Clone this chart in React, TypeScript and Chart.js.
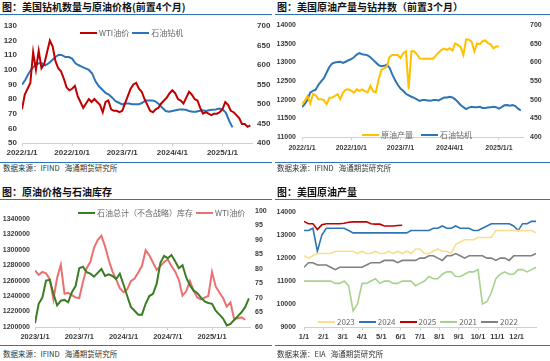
import React, { useEffect, useRef } from 'react';
import { Chart, registerables } from 'chart.js';
Chart.register(...registerables);

// ---------- Chart 1: 美国钻机数量与原油价格(前置4个月) ----------
const c1Title = '图：美国钻机数量与原油价格(前置4个月)';
const c1Base = '2022/1/1';
const c1XLabels = ['2022/1/1', '2022/10/1', '2023/7/1', '2024/4/1', '2025/1/1'];
const c1WtiStep = 0.5; // months between points
const c1Wti = [73, 83, 87, 91, 112, 100, 113, 101, 104, 112, 120, 116, 106, 101, 99, 94, 88, 86, 87, 89, 82, 78, 74, 77, 80, 78, 80, 78, 76, 71, 78, 79, 73, 72, 72, 71, 72, 77, 82, 87, 90, 91, 87, 85, 80, 76, 72, 71, 73, 74, 77, 79, 81, 84, 86, 84, 80, 79, 77, 81, 85, 83, 80, 79, 74, 70, 71, 70, 69, 70, 70, 71, 73, 78, 76, 72, 71, 69, 67, 63, 63, 61, 62];
const c1RigStep = 0.6;
const c1Rig = [549, 562, 578, 591, 599, 604, 604, 599, 604, 612, 620, 626, 625, 620, 620, 616, 604, 599, 595, 591, 587, 578, 558, 545, 537, 528, 524, 516, 507, 503, 499, 501, 501, 499, 499, 499, 503, 509, 509, 509, 506, 499, 490, 482, 480, 482, 484, 486, 486, 485, 482, 480, 480, 482, 484, 482, 484, 485, 486, 488, 486, 478, 457, 440];

// ---------- Chart 2: 美国原油产量与钻井数（前置3个月） ----------
const c2Title = '图：美国原油产量与钻井数（前置3个月）';
const c2Base = '2022/1/1';
const c2XLabels = ['2022/1/1', '2022/10/1', '2023/7/1', '2024/4/1', '2025/1/1'];
const c2Step = 0.5;
const c2Prod = [11880, 11970, 12100, 11900, 12150, 12120, 12015, 12015, 11990, 11880, 12050, 12060, 12100, 12150, 12015, 12190, 12270, 12280, 12240, 12190, 12280, 12240, 12280, 12230, 12200, 12370, 12230, 12200, 12540, 12800, 12840, 12880, 13150, 13200, 13200, 13200, 13120, 13250, 13300, 12280, 13300, 13300, 13220, 13110, 13100, 13100, 13100, 13100, 13100, 13190, 13270, 13340, 13370, 13340, 13380, 13320, 13510, 13470, 13420, 13200, 13620, 13610, 13560, 13300, 13510, 13490, 13570, 13590, 13520, 13480, 13380, 13430, 13430];
const c2Rig = [480, 488, 500, 519, 524, 527, 540, 549, 558, 573, 588, 597, 600, 601, 602, 599, 602, 606, 609, 614, 621, 625, 622, 621, 619, 614, 607, 600, 593, 590, 591, 594, 586, 568, 553, 540, 530, 524, 516, 512, 508, 505, 501, 497, 499, 499, 498, 497, 499, 499, 498, 502, 506, 506, 508, 506, 501, 494, 486, 480, 475, 479, 481, 480, 480, 481, 478, 478, 479, 480, 481, 480, 476, 480, 485, 486, 484, 486, 483, 476, 471];

// ---------- Chart 3: 原油价格与石油库存 ----------
const c3Title = '图：原油价格与石油库存';
const c3Base = '2023/1/1';
const c3XLabels = ['2023/1/1', '2023/7/1', '2024/1/1', '2024/7/1', '2025/1/1'];
const c3Step = 0.5;
const c3Stock = [1205000, 1230000, 1238000, 1260000, 1261000, 1243000, 1228000, 1234000, 1235000, 1232000, 1245000, 1253000, 1276000, 1278000, 1271000, 1269000, 1265000, 1270000, 1275000, 1266000, 1268000, 1266000, 1262000, 1269000, 1255000, 1240000, 1226000, 1221000, 1216000, 1216000, 1230000, 1240000, 1243000, 1256000, 1283000, 1292000, 1289000, 1293000, 1285000, 1276000, 1280000, 1264000, 1254000, 1247000, 1244000, 1238000, 1233000, 1231000, 1230000, 1221000, 1216000, 1211000, 1202000, 1204000, 1209000, 1214000, 1219000, 1226000, 1237000];
const c3Wti = [79.5, 78, 79, 78.5, 76.5, 69.5, 77, 81.5, 71.5, 71.8, 71, 70.2, 70, 75.5, 80.3, 82.4, 87.3, 90, 91.5, 87.8, 83, 79.2, 76.4, 73.4, 72, 73, 75.8, 76.7, 78.8, 81, 86.5, 84.7, 82.2, 79.7, 81, 82.4, 83.3, 81, 79.1, 76.3, 70.8, 72.3, 75.8, 72.6, 70.2, 69.5, 70.1, 70.7, 79, 74, 71.9, 70, 67, 68.5, 62.7, 63, 63.3, 62.5];

// ---------- Chart 4: 美国原油产量 (weekly, by year) ----------
const c4Title = '图：美国原油产量';
const c4XLabels = ['1/1', '2/1', '3/1', '4/1', '5/1', '6/1', '7/1', '8/1', '9/1', '10/1', '11/1', '12/1'];
const c4Y2023 = [12100, 12000, 12100, 12200, 12200, 12200, 12200, 12300, 12300, 12300, 12300, 12300, 12200, 12300, 12200, 12200, 12300, 12200, 12200, 12300, 12200, 12300, 12200, 12300, 12200, 12400, 12400, 12200, 12200, 12300, 12400, 12300, 12300, 12200, 12600, 12700, 12800, 12800, 12800, 12900, 12900, 12900, 12900, 13200, 13200, 13200, 13200, 13200, 13200, 13200, 13200, 13200, 13100];
const c4Y2024 = [13200, 13200, 13300, 12300, 13000, 13300, 13300, 13300, 13300, 13300, 13200, 13100, 13100, 13100, 13100, 13100, 13100, 13100, 13100, 13100, 13100, 13100, 13100, 13100, 13200, 13200, 13200, 13200, 13200, 13300, 13300, 13400, 13300, 13300, 13400, 13300, 13300, 13300, 13200, 13200, 13300, 13400, 13500, 13500, 13500, 13500, 13500, 13400, 13200, 13500, 13500, 13600, 13600];
const c4Y2025 = [13600, 13500, 13500, 13250, 13450, 13500, 13500, 13500, 13500, 13520, 13560, 13580, 13580, 13580, 13580, 13500, 13480, 13480, 13400, 13400, 13400, 13420, 13430];
const c4Y2021 = [11000, 11000, 11000, 11000, 11000, 11000, 11000, 10900, 10900, 11000, 10800, 9700, 10000, 10900, 10900, 11000, 11100, 10900, 11000, 11000, 10900, 10900, 11000, 11000, 11000, 10800, 10900, 11000, 11200, 11100, 11100, 11300, 11400, 11400, 11200, 11200, 11300, 11400, 11400, 11500, 10000, 10100, 10500, 11100, 11300, 11400, 11300, 11300, 11500, 11500, 11400, 11500, 11600];
const c4Y2022 = [11600, 11800, 11800, 11700, 11700, 11700, 11600, 11500, 11600, 11600, 11600, 11600, 11600, 11600, 11700, 11800, 11800, 11800, 11900, 11900, 11900, 11800, 11900, 11900, 11900, 11900, 12000, 12000, 12100, 12100, 12000, 11900, 12100, 12100, 12200, 12100, 12000, 12100, 12100, 12100, 12100, 12000, 12000, 11900, 12000, 12000, 11900, 12100, 12100, 12100, 12100, 12100, 12200];
const c4WeekStep = 12 / 52; // months per week

const footerIfind = '数据来源：IFIND\u00a0\u00a0\u00a0海通期货研究所';
const footerEia = '数据来源：EIA\u00a0\u00a0\u00a0海通期货研究所';

// ---------- helpers ----------
function monthsFrom(base: string, label: string) {
  const [y, m, d] = label.split('/').map(Number);
  const [by, bm] = base.split('/').map(Number);
  return (y - by) * 12 + (m - bm) + ((d || 1) - 1) / 30;
}
function monthOfYear(label: string) {
  const [m, d] = label.split('/').map(Number);
  return m - 1 + (d - 1) / 30;
}
function series(values: number[], start: number, step: number) {
  return values.map((v, i) => ({ x: start + i * step, y: v }));
}

const TICK_FAMILY = '"Liberation Sans", Arial, sans-serif';
const tickFont = (size: number) => ({ family: TICK_FAMILY, size, weight: 'bold' as const });
const TICK_COLOR = '#3a3a3a';

function xAxis(labels: string[], pos: (l: string) => number, min: number, max: number, height: number, size: number, pad: number) {
  return {
    type: 'linear' as const,
    min,
    max,
    afterBuildTicks: (s: any) => {
      s.ticks = labels.map((l) => ({ value: pos(l) }));
    },
    afterFit: (s: any) => {
      s.height = height;
    },
    ticks: {
      autoSkip: false,
      maxRotation: 0,
      padding: pad,
      color: TICK_COLOR,
      font: tickFont(size),
      callback: (_v: any, i: number) => labels[i],
    },
    grid: { display: true, drawOnChartArea: false, drawTicks: true, tickLength: 3, color: '#d0d0d0' },
    border: { display: true, color: '#d0d0d0' },
  };
}

function yAxis(position: 'left' | 'right', min: number, max: number, step: number, width: number, size: number, pad: number, maxLabel?: number) {
  const top = maxLabel !== undefined ? maxLabel : max;
  return {
    type: 'linear' as const,
    position,
    min,
    max,
    afterBuildTicks: (s: any) => {
      const t: { value: number }[] = [];
      for (let v = min; v <= top + 1e-9; v += step) t.push({ value: v });
      s.ticks = t;
    },
    afterFit: (s: any) => {
      s.width = width;
    },
    ticks: {
      autoSkip: false,
      padding: pad,
      color: TICK_COLOR,
      font: tickFont(size),
      callback: (v: any) => String(Math.round(v)),
    },
    grid: { display: false, drawTicks: false },
    border: { display: false },
  };
}

function lineDs(label: string, data: any[], color: string, axis: string, width = 1.8) {
  return {
    label,
    data,
    borderColor: color,
    backgroundColor: color,
    borderWidth: width,
    pointRadius: 0,
    tension: 0,
    fill: false,
    yAxisID: axis,
  };
}

function baseOptions(padTop: number, padRight = 0) {
  return {
    responsive: false,
    maintainAspectRatio: false,
    animation: false as const,
    layout: { padding: { top: padTop, left: 0, right: padRight, bottom: 0 } },
    plugins: { legend: { display: false }, tooltip: { enabled: false }, title: { display: false } },
  };
}

// ---------- colours ----------
const RED_DARK = '#C00000';
const BLUE = '#2E75B6';
const YELLOW = '#FFC000';
const GREEN_DARK = '#3A7D22';
const RED_LIGHT = '#EC7070';
const C4 = { y2023: '#FBDD8E', y2024: '#2E75B6', y2025: '#C00000', y2021: '#A9D18E', y2022: '#808080' };

function config1(): any {
  return {
    type: 'line',
    data: {
      datasets: [
        lineDs('WTI油价', series(c1Wti, 0, c1WtiStep), RED_DARK, 'y', 2),
        lineDs('石油钻机', series(c1Rig, 0, c1RigStep), BLUE, 'y1', 2),
      ],
    },
    options: {
      ...baseOptions(7),
      scales: {
        x: xAxis(c1XLabels, (l) => monthsFrom(c1Base, l), 0, 41.3, 18, 8, 2),
        y: yAxis('left', 50, 130, 10, 22, 8, 5),
        y1: yAxis('right', 400, 700, 50, 20, 8, 5),
      },
    },
  };
}

function config2(): any {
  return {
    type: 'line',
    data: {
      datasets: [
        lineDs('原油产量', series(c2Prod, 0, c2Step), YELLOW, 'y', 2),
        lineDs('石油钻机', series(c2Rig, 0, c2Step), BLUE, 'y1', 2),
      ],
    },
    options: {
      ...baseOptions(9),
      scales: {
        x: xAxis(c2XLabels, (l) => monthsFrom(c2Base, l), 0, 40.4, 24, 7, 4),
        y: yAxis('left', 11000, 14000, 500, 27, 7, 6),
        y1: yAxis('right', 400, 700, 50, 27, 7, 7),
      },
    },
  };
}

function config3(): any {
  return {
    type: 'line',
    data: {
      datasets: [
        lineDs('石油总计（不含战略）库存', series(c3Stock, 0, c3Step), GREEN_DARK, 'y', 2),
        lineDs('WTI油价', series(c3Wti, 0, c3Step), RED_LIGHT, 'y1', 2),
      ],
    },
    options: {
      ...baseOptions(11),
      scales: {
        x: xAxis(c3XLabels, (l) => monthsFrom(c3Base, l), 0, 29.15, 18, 7.5, 2),
        y: yAxis('left', 1200000, 1350000, 20000, 35, 7, 5, 1340000),
        y1: yAxis('right', 60, 100, 5, 22, 7, 5),
      },
    },
  };
}

function config4(): any {
  return {
    type: 'line',
    data: {
      datasets: [
        lineDs('2021', series(c4Y2021, 0, c4WeekStep), C4.y2021, 'y', 1.6),
        lineDs('2022', series(c4Y2022, 0, c4WeekStep), C4.y2022, 'y', 1.6),
        lineDs('2023', series(c4Y2023, 0, c4WeekStep), C4.y2023, 'y', 1.6),
        lineDs('2024', series(c4Y2024, 0, c4WeekStep), C4.y2024, 'y', 1.6),
        lineDs('2025', series(c4Y2025, 0, c4WeekStep), C4.y2025, 'y', 1.6),
      ],
    },
    options: {
      ...baseOptions(10, 14),
      scales: {
        x: xAxis(c4XLabels, monthOfYear, 0, 12, 18, 7.5, 2),
        y: yAxis('left', 9000, 14000, 1000, 29, 7, 8),
      },
    },
  };
}

function ChartBox({ left, top, width, height, make }: { left: number; top: number; width: number; height: number; make: () => any }) {
  const ref = useRef<HTMLCanvasElement>(null);
  useEffect(() => {
    const chart = new Chart(ref.current as HTMLCanvasElement, make());
    return () => chart.destroy();
  }, []);
  return (
    <div style={{ position: 'absolute', left, top, width, height }}>
      <canvas ref={ref} width={width} height={height} style={{ width, height, display: 'block' }} />
    </div>
  );
}

const CJK = '"Noto Sans CJK SC", "Noto Sans", sans-serif';

function Title({ x, y, text }: { x: number; y: number; text: string }) {
  return (
    <div style={{ position: 'absolute', left: x, top: y - 7, height: 14, lineHeight: '14px', fontSize: 10, fontWeight: 700, color: '#111', whiteSpace: 'nowrap', fontFamily: CJK }}>
      {text}
    </div>
  );
}
function Rule({ x, y, w }: { x: number; y: number; w: number }) {
  return <div style={{ position: 'absolute', left: x, top: y, width: w, height: 1, background: BLUE }} />;
}
function Footer({ x, y, text }: { x: number; y: number; text: string }) {
  return (
    <div style={{ position: 'absolute', left: x, top: y - 6, height: 12, lineHeight: '12px', fontSize: 7.5, color: '#333', whiteSpace: 'nowrap', fontFamily: CJK }}>
      {text}
    </div>
  );
}
function Legend({ x, y, items, gap = 3 }: { x: number; y: number; items: { label: string; color: string }[]; gap?: number }) {
  return (
    <div style={{ position: 'absolute', left: x, top: y - 6, height: 12, display: 'flex', alignItems: 'center', whiteSpace: 'nowrap', fontFamily: CJK, fontSize: 8, color: '#666' }}>
      {items.map((it) => (
        <div key={it.label} style={{ display: 'flex', alignItems: 'center', marginRight: gap }}>
          <span style={{ display: 'inline-block', width: 17, height: 2, background: it.color, marginRight: 2 }} />
          <span style={{ lineHeight: '12px' }}>{it.label}</span>
        </div>
      ))}
    </div>
  );
}

export default function App() {
  return (
    <div style={{ position: 'absolute', left: 0, top: 0, width: 550, height: 361, background: '#fff', overflow: 'hidden' }}>
      {/* top-left */}
      <Title x={2} y={7} text={c1Title} />
      <Rule x={0} y={14} w={272} />
      <ChartBox left={0} top={16} width={272} height={145} make={config1} />
      <Legend x={80} y={33} items={[{ label: 'WTI油价', color: RED_DARK }, { label: '石油钻机', color: BLUE }]} />
      <Rule x={0} y={162} w={272} />
      <Footer x={3} y={168} text={footerIfind} />

      {/* top-right */}
      <Title x={277} y={7} text={c2Title} />
      <Rule x={275} y={14} w={275} />
      <ChartBox left={275} top={14} width={275} height={147} make={config2} />
      <Legend x={362} y={135} items={[{ label: '原油产量', color: YELLOW }, { label: '石油钻机', color: BLUE }]} gap={8} />
      <Rule x={275} y={162} w={275} />
      <Footer x={277} y={168} text={footerIfind} />

      {/* bottom-left */}
      <Title x={2} y={192} text={c3Title} />
      <Rule x={0} y={199} w={272} />
      <ChartBox left={0} top={200} width={272} height={145} make={config3} />
      <Legend x={78} y={213} items={[{ label: '石油总计（不含战略）库存', color: GREEN_DARK }, { label: 'WTI油价', color: RED_LIGHT }]} />
      <Rule x={0} y={345} w={272} />
      <Footer x={3} y={354} text={footerIfind} />

      {/* bottom-right */}
      <Title x={277} y={192} text={c4Title} />
      <Rule x={275} y={199} w={275} />
      <ChartBox left={275} top={200} width={275} height={145} make={config4} />
      <Legend
        x={318}
        y={322}
        items={[
          { label: '2023', color: C4.y2023 },
          { label: '2024', color: C4.y2024 },
          { label: '2025', color: C4.y2025 },
          { label: '2021', color: C4.y2021 },
          { label: '2022', color: C4.y2022 },
        ]}
        gap={4}
      />
      <Rule x={275} y={345} w={275} />
      <Footer x={277} y={354} text={footerEia} />
    </div>
  );
}
